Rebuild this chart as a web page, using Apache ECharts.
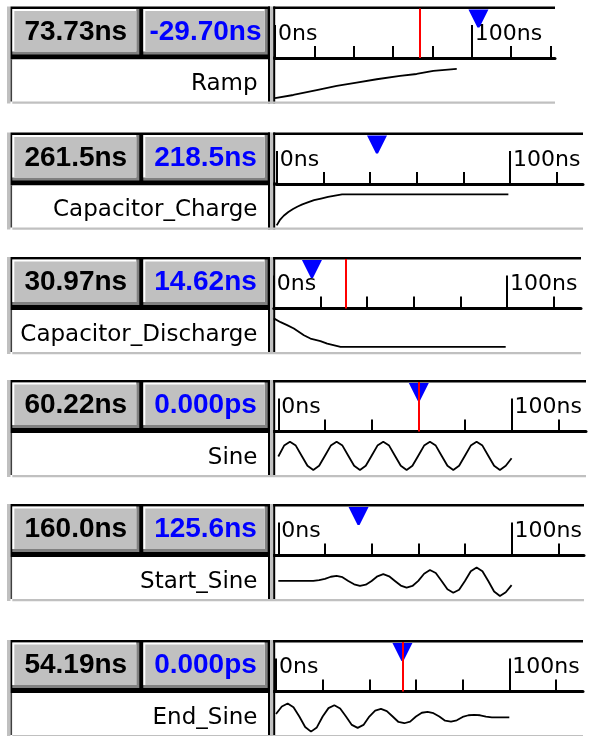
<!DOCTYPE html>
<html><head><meta charset="utf-8">
<script src="https://cdn.jsdelivr.net/npm/echarts@6/dist/echarts.min.js"></script>
<style>html,body{margin:0;padding:0;background:#fff}#c{width:597px;height:736px}</style>
</head><body><div id="c"></div>
<script>
// ---------- data ----------
const signalNames = ['Ramp', 'Capacitor_Charge', 'Capacitor_Discharge', 'Sine', 'Start_Sine', 'End_Sine'];
const cursorLabels = ['73.73ns', '261.5ns', '30.97ns', '60.22ns', '160.0ns', '54.19ns'];
const deltaLabels = ['-29.70ns', '218.5ns', '14.62ns', '0.000ps', '125.6ns', '0.000ps'];
const cursorNs = [73.73, 261.5, 30.97, 60.22, 160.0, 54.19];
const deltaNs = [-29.70, 218.5, 14.62, 0, 125.6, 0];
const majorTicks = [0, 100];
const minorTicks = [20, 40, 60, 80, 120, 140];

const rampT = [0, 9.3, 21.2, 31.4, 41.5, 51.7, 63.6, 72, 80.5, 92.4];
const rampV = [0.08, 0.155, 0.27, 0.37, 0.45, 0.53, 0.61, 0.655, 0.73, 0.775];

const chargeT = [0, 1.5, 3, 5, 7, 9, 11, 13, 16, 19, 22, 25, 28, 99.3];
const chargeV = [0.05, 0.19, 0.28, 0.37, 0.44, 0.50, 0.55, 0.59, 0.65, 0.69, 0.73, 0.76, 0.79, 0.79];

const dischargeT = [0, 2.9, 5.7, 8.6, 12.9, 15.7, 20, 22.9, 28.6, 99.4];
const dischargeV = [0.80, 0.71, 0.64, 0.56, 0.40, 0.32, 0.26, 0.20, 0.12, 0.12];

const sampleT = [0, 2.5, 5, 7.5, 10, 12.5, 15, 17.5, 20, 22.5, 25, 27.5, 30, 32.5, 35, 37.5, 40, 42.5, 45, 47.5,
  50, 52.5, 55, 57.5, 60, 62.5, 65, 67.5, 70, 72.5, 75, 77.5, 80, 82.5, 85, 87.5, 90, 92.5, 95, 97.5, 100];
const sineV = [0.44, 0.70, 0.79, 0.70, 0.46, 0.22, 0.12, 0.22, 0.46, 0.70, 0.79, 0.70, 0.46, 0.22, 0.12, 0.22,
  0.46, 0.70, 0.79, 0.70, 0.46, 0.22, 0.12, 0.22, 0.46, 0.70, 0.79, 0.70, 0.46, 0.22, 0.12, 0.22,
  0.46, 0.70, 0.79, 0.70, 0.46, 0.22, 0.12, 0.22, 0.40];
const startSineV = [0.43, 0.43, 0.43, 0.43, 0.43, 0.43, 0.43, 0.45, 0.48, 0.53, 0.55, 0.52, 0.43, 0.35, 0.31, 0.34,
  0.43, 0.54, 0.59, 0.54, 0.43, 0.32, 0.27, 0.31, 0.43, 0.60, 0.69, 0.62, 0.43, 0.23, 0.15, 0.22,
  0.43, 0.66, 0.75, 0.66, 0.43, 0.18, 0.07, 0.16, 0.33];
const endSineV = [0.50, 0.68, 0.75, 0.66, 0.44, 0.19, 0.08, 0.18, 0.44, 0.64, 0.71, 0.63, 0.44, 0.24, 0.17, 0.24,
  0.44, 0.58, 0.62, 0.57, 0.44, 0.31, 0.28, 0.32, 0.44, 0.53, 0.55, 0.52, 0.44, 0.34, 0.32, 0.35,
  0.43, 0.47, 0.48, 0.47, 0.44, 0.42, 0.42, 0.42, 0.42];

const waveT = [rampT, chargeT, dischargeT, sampleT, sampleT, sampleT];
const waveV = [rampV, chargeV, dischargeV, sineV, startSineV, endSineV];

// ---------- layout ----------
const panelTop = [6.5, 132.5, 257, 380, 504, 640];
const zeroX = [275, 276.7, 273.8, 278.3, 278.3, 276];
const pxPerNs = [1.967, 2.333, 2.333, 2.333, 2.333, 2.333];
const rightEnd = [555, 583, 581, 586, 584, 583];

const grids = [], xAxes = [], yAxes = [], series = [], els = [];

function rect(x, y, w, h, fill) {
  return { type: 'rect', silent: true, shape: { x: x, y: y, width: w, height: h }, style: { fill: fill } };
}
function button(x, y, w, h, text, color) {
  els.push(rect(x, y, w, h, '#808080'));
  els.push(rect(x, y, w - 3, h - 3, '#ffffff'));
  els.push(rect(x + 2, y + 2, w - 5, h - 5, '#c0c0c0'));
  els.push({ type: 'text', silent: true, style: { x: x + w / 2, y: y + 23, text: text, fill: color,
    font: 'bold 28px "Liberation Sans"', align: 'center', verticalAlign: 'middle' } });
}

for (let i = 0; i < 6; i++) {
  const T = panelTop[i], x0 = zeroX[i], xe = rightEnd[i];
  const maxNs = (xe - x0) / pxPerNs[i];

  // left block
  els.push(rect(7, T, 3.5, 97, '#c0c0c0'));
  els.push(rect(10.5, T, 259.5, 53, '#000000'));
  button(12.3, T + 2.5, 127, 45.5, cursorLabels[i], '#000000');
  button(143.3, T + 2.5, 124.4, 45.5, deltaLabels[i], '#0000ff');
  els.push(rect(10.5, T + 53, 1.8, 42, '#404040'));
  els.push(rect(12.3, T + 53, 256, 42, '#ffffff'));
  els.push({ type: 'text', silent: true, style: { x: 257.5, y: T + 78, text: signalNames[i], fill: '#000',
    font: '23px "DejaVu Sans"', align: 'right', verticalAlign: 'middle' } });
  // divider
  els.push(rect(268, T, 2.2, 97, '#000000'));
  els.push(rect(270.2, T, 3, 97, '#c0c0c0'));
  els.push(rect(273.2, T, 2, 97, '#000000'));
  // right top border, bottom gray line, axis filler
  els.push(rect(273.2, T, xe - 273.2, 2.5, '#000000'));
  els.push(rect(12.3, T + 95, xe - 12.3, 2.2, '#c0c0c0'));
  els.push(rect(273.2, T + 50, x0 - 273.2 + 1, 3, '#000000'));

  // axis grid
  grids.push({ left: x0, top: T + 2, width: xe - x0, height: 49.5, containLabel: false, outerBoundsMode: 'none' });
  const gA = grids.length - 1;
  xAxes.push({ gridIndex: gA, type: 'value', min: 0, max: maxNs, position: 'bottom',
    axisLine: { show: true, lineStyle: { color: '#000', width: 3 } },
    axisTick: { show: true, inside: true, length: 33, lineStyle: { color: '#000', width: 2 }, customValues: majorTicks },
    axisLabel: { show: true, inside: true, customValues: majorTicks, formatter: function (v) { return v + 'ns'; },
      align: 'left', verticalAlign: 'middle', margin: 24, padding: [0, 0, 0, 3], color: '#000',
      fontFamily: 'DejaVu Sans', fontSize: 22 },
    splitLine: { show: false } });
  const xMajor = xAxes.length - 1;
  xAxes.push({ gridIndex: gA, type: 'value', min: 0, max: maxNs, position: 'bottom',
    axisLine: { show: false },
    axisTick: { show: true, inside: true, length: 12, lineStyle: { color: '#000', width: 2 },
      customValues: minorTicks.filter(function (v) { return v < maxNs; }) },
    axisLabel: { show: false }, splitLine: { show: false } });
  yAxes.push({ gridIndex: gA, type: 'value', min: 0, max: 1, show: false });
  const yA = yAxes.length - 1;

  const markerNs = cursorNs[i] - deltaNs[i];
  series.push({ type: 'line', xAxisIndex: xMajor, yAxisIndex: yA, data: [], silent: true, animation: false,
    markPoint: { silent: true, animation: false, symbol: 'path://M0,0L20,0L11,18L9,18Z', symbolSize: [20, 18],
      itemStyle: { color: '#0000ff' }, label: { show: false }, data: [{ coord: [markerNs, 0.80] }] },
    markLine: { silent: true, animation: false, z: 10, symbol: ['none', 'none'], label: { show: false },
      lineStyle: { color: '#ff0000', width: 2, type: 'solid' },
      data: cursorNs[i] <= maxNs ? [{ xAxis: cursorNs[i] }] : [] } });

  // waveform grid
  grids.push({ left: x0, top: T + 53, width: xe - x0, height: 42, containLabel: false, outerBoundsMode: 'none' });
  const gB = grids.length - 1;
  xAxes.push({ gridIndex: gB, type: 'value', min: 0, max: maxNs, show: false, splitLine: { show: false } });
  yAxes.push({ gridIndex: gB, type: 'value', min: 0, max: 1, show: false, splitLine: { show: false } });
  series.push({ type: 'line', xAxisIndex: xAxes.length - 1, yAxisIndex: yAxes.length - 1,
    data: waveT[i].map(function (t, k) { return [t, waveV[i][k]]; }),
    showSymbol: false, symbol: 'none', silent: true, animation: false, clip: false,
    lineStyle: { color: '#000', width: 1.8 } });
}

const chart = echarts.init(document.getElementById('c'), null, { renderer: 'canvas' });
chart.setOption({
  animation: false,
  backgroundColor: '#ffffff',
  grid: grids, xAxis: xAxes, yAxis: yAxes, series: series,
  graphic: { elements: els }
});
</script></body></html>
